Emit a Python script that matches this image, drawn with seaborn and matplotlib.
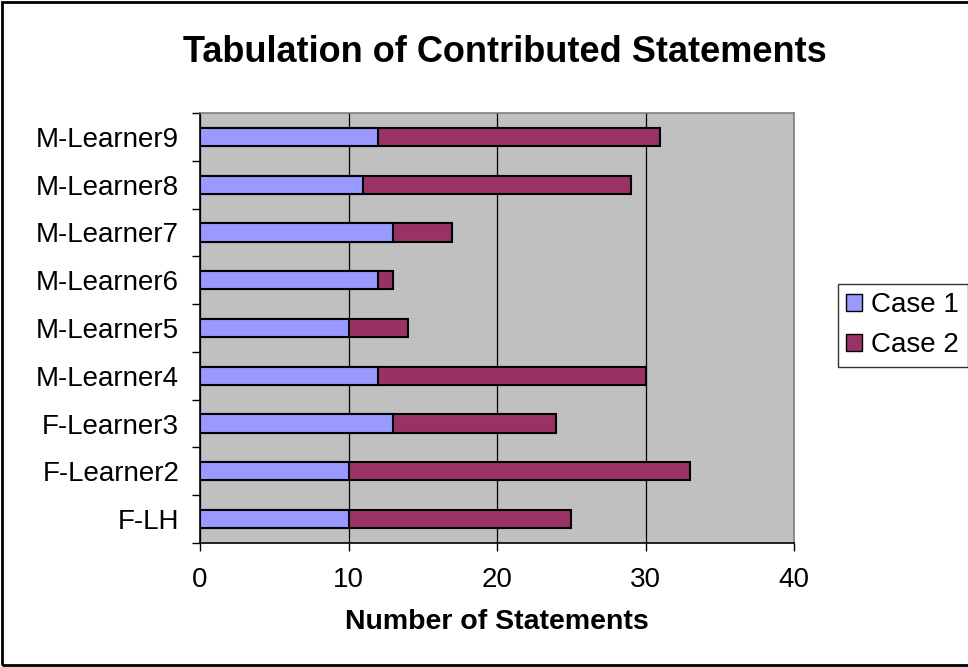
import numpy as np
import pandas as pd
import seaborn as sns
import matplotlib.pyplot as plt
from matplotlib.patches import Patch, Rectangle

# chart data (top to bottom as shown)
learners = ['M-Learner9', 'M-Learner8', 'M-Learner7', 'M-Learner6', 'M-Learner5',
            'M-Learner4', 'F-Learner3', 'F-Learner2', 'F-LH']
case1 = [12, 11, 13, 12, 10, 12, 13, 10, 10]
case2 = [19, 18, 4, 1, 4, 18, 11, 23, 15]

df = pd.DataFrame({'learner': learners, 'case1': case1, 'case2': case2})
df['total'] = df['case1'] + df['case2']

sns.set_style('white')
plt.rcParams['font.family'] = ['Liberation Sans', 'DejaVu Sans']
plt.rcParams['text.color'] = 'black'
plt.rcParams['axes.labelcolor'] = 'black'
plt.rcParams['xtick.color'] = 'black'
plt.rcParams['ytick.color'] = 'black'

c1 = '#9999FF'
c2 = '#993366'

fig = plt.figure(figsize=(9.68, 6.67), dpi=100)
ax = fig.add_axes([200 / 968, 1 - 543 / 667, 594 / 968, 430 / 667])
ax.set_facecolor('#C0C0C0')

# stacked bars: total first (case 2 colour), then case 1 over it
sns.barplot(data=df, x='total', y='learner', order=learners, color=c2, saturation=1,
            width=0.38, edgecolor='black', linewidth=1.5, ax=ax, zorder=3)
sns.barplot(data=df, x='case1', y='learner', order=learners, color=c1, saturation=1,
            width=0.38, edgecolor='black', linewidth=1.5, ax=ax, zorder=4)

ax.set_xlim(0, 40)
ax.set_xticks([0, 10, 20, 30, 40])
ax.set_ylim(len(learners) - 0.5, -0.5)
ax.xaxis.grid(True, color='black', linewidth=0.9, zorder=0)
ax.set_axisbelow(True)

ax.set_yticks(range(len(learners)))
ax.set_yticklabels(learners)
ax.set_yticks(np.arange(-0.5, len(learners)), minor=True)
ax.tick_params(axis='y', which='major', length=0, pad=15, labelsize=20)
ax.tick_params(axis='y', which='minor', length=6, width=1, direction='out', left=True)
ax.tick_params(axis='x', length=6, width=1, direction='out', bottom=True,
               labelsize=20, pad=11)

for s in ['left', 'bottom']:
    ax.spines[s].set_color('black')
    ax.spines[s].set_linewidth(1.2)
for s in ['top', 'right']:
    ax.spines[s].set_color('#808080')
    ax.spines[s].set_linewidth(1.2)

ax.set_ylabel('')
ax.set_xlabel('Number of Statements', fontsize=20.5, fontweight='bold', labelpad=12)
fig.suptitle('Tabulation of Contributed Statements', fontsize=26, fontweight='bold',
             x=0.522, y=0.947)

handles = [Patch(facecolor=c1, edgecolor='black', label='Case 1'),
           Patch(facecolor=c2, edgecolor='black', label='Case 2')]
leg = fig.legend(handles=handles, loc='upper left', bbox_to_anchor=(838 / 968, 1 - 284 / 667),
                 fontsize=20, frameon=True, fancybox=False, handlelength=0.55, handleheight=0.55,
                 handletextpad=0.35, borderpad=0.3, labelspacing=0.5, borderaxespad=0)
leg.get_frame().set_edgecolor('black')
leg.get_frame().set_linewidth(1)

# outer chart border
fig.patches.append(Rectangle((0.002, 0.003), 1.1, 0.994, transform=fig.transFigure,
                             fill=False, edgecolor='black', linewidth=2))

fig.savefig('out.png', dpi=100)
